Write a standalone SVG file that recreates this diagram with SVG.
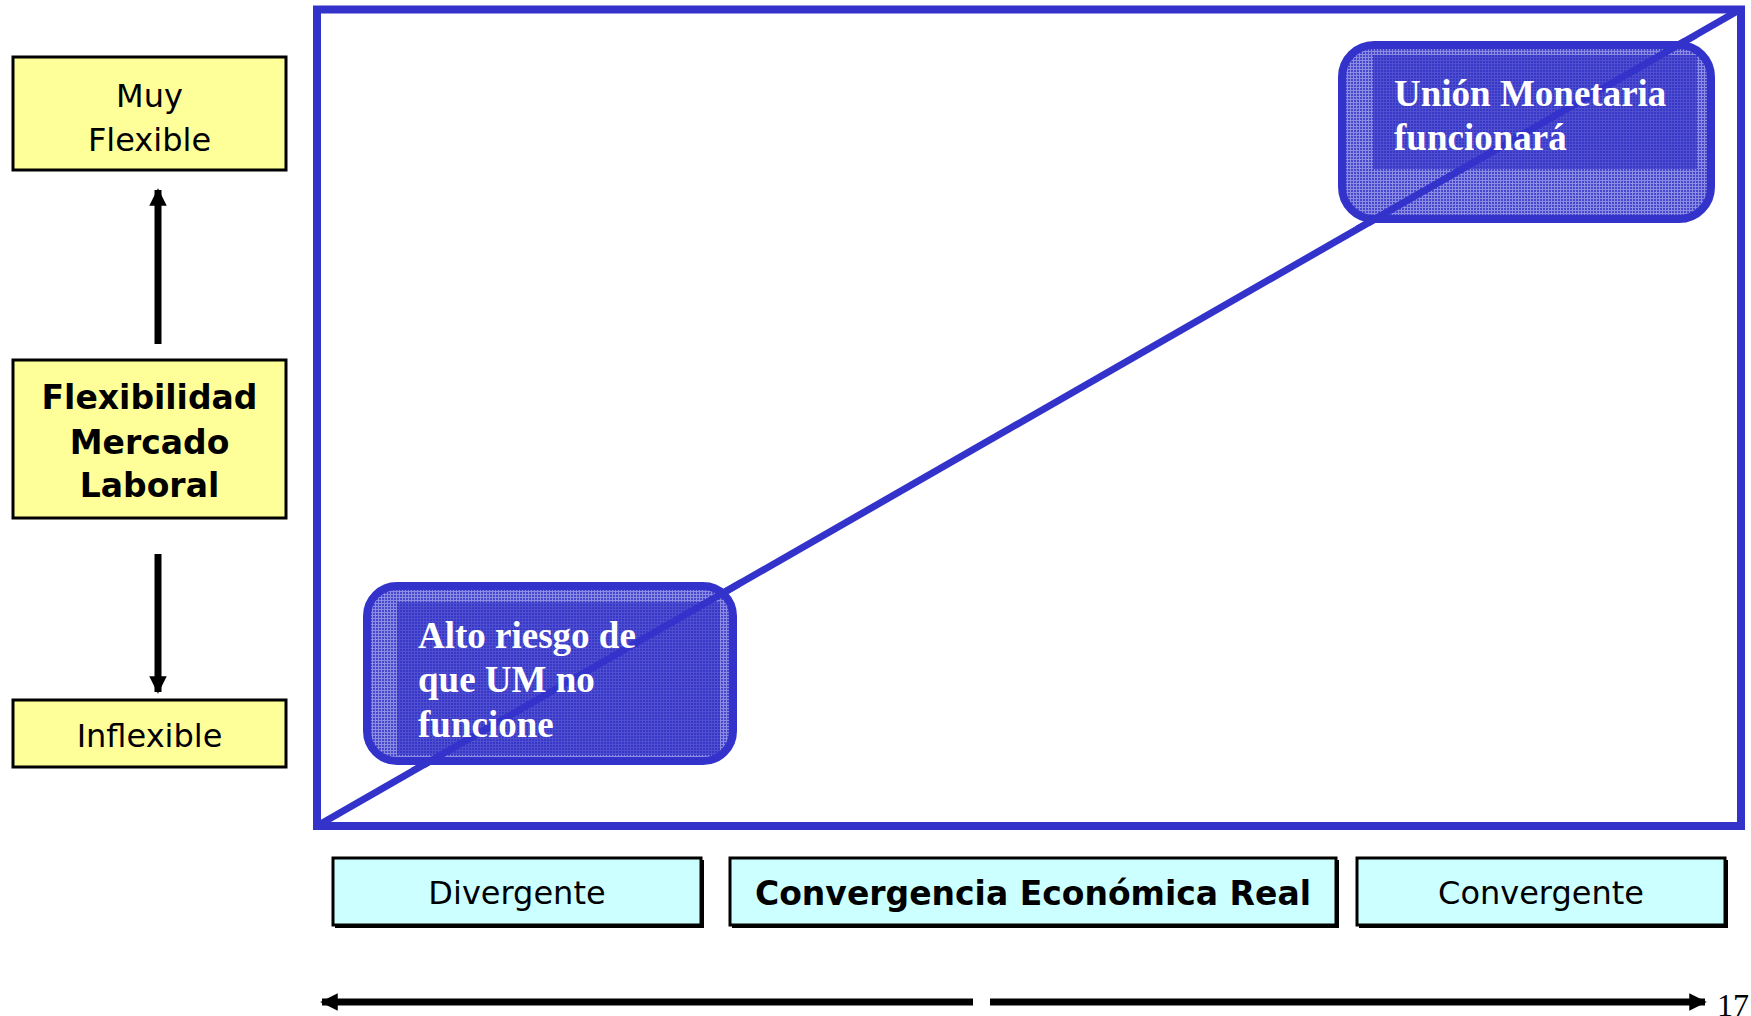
<svg xmlns="http://www.w3.org/2000/svg" xmlns:xlink="http://www.w3.org/1999/xlink" width="1751" height="1016" viewBox="0 0 1751 1016">
  <defs>
    <style>
      .ybox { fill: #FFFF99; stroke: #000; stroke-width: 3; }
      .cbox { fill: #CCFFFF; stroke: #000; stroke-width: 3; }
      .shadow { fill: #000; }
      .sans { font-family: "DejaVu Sans", Verdana, sans-serif; font-size: 32px; fill: #000; text-anchor: middle; }
      .bold { font-weight: bold; font-size: 33px; }
      .ser { font-family: "Liberation Serif", "Times New Roman", serif; font-weight: bold; font-size: 37px; fill: #FFFFFF; }
      .blue { stroke: #3333CC; fill: none; }
      .arrow { stroke: #000; stroke-width: 7; fill: none; }
    </style>
    <pattern id="stipLight" width="3" height="3" patternUnits="userSpaceOnUse">
      <rect width="3" height="3" fill="#4848CE"/>
      <rect width="3" height="1" fill="#8C8CE2"/>
      <rect width="1" height="3" fill="#8C8CE2"/>
    </pattern>
    <pattern id="stipDark" width="3" height="3" patternUnits="userSpaceOnUse">
      <rect width="3" height="3" fill="#3838C8"/>
      <rect width="3" height="1" fill="#4F4FCF"/>
      <rect width="1" height="3" fill="#4F4FCF"/>
    </pattern>
    <marker id="head" viewBox="0 0 10 10" refX="9" refY="5" markerWidth="2.5" markerHeight="2.5" orient="auto-start-reverse" markerUnits="strokeWidth">
      <path d="M0,0 L10,5 L0,10 Z" fill="#000"/>
    </marker>
    <line id="diag" x1="317" y1="826" x2="1741" y2="9" stroke="#3333CC" stroke-width="7"/>
    <clipPath id="clipLow"><rect x="360" y="579" width="380" height="189"/></clipPath>
    <clipPath id="clipHigh"><rect x="1335" y="38" width="383" height="188"/></clipPath>
  </defs>

  <rect width="1751" height="1016" fill="#FFFFFF"/>

  <!-- chart frame -->
  <g id="frame">
    <rect class="blue" x="317" y="9.5" width="1424" height="816.5" stroke-width="8"/>
  </g>

  <!-- connectors -->
  <g id="connectors">
    <use xlink:href="#diag" href="#diag"/>
    <line class="arrow" x1="158" y1="344" x2="158" y2="190" marker-end="url(#head)"/>
    <line class="arrow" x1="158" y1="554" x2="158" y2="692" marker-end="url(#head)"/>
    <line class="arrow" x1="973" y1="1002" x2="322" y2="1002" marker-end="url(#head)"/>
    <line class="arrow" x1="990" y1="1002" x2="1705" y2="1002" marker-end="url(#head)"/>
  </g>

  <!-- left axis nodes -->
  <g id="muy-flexible">
    <rect class="ybox" x="13" y="57" width="273" height="113"/>
    <text class="sans" x="149.5" y="107">Muy</text>
    <text class="sans" x="149.5" y="151">Flexible</text>
  </g>
  <g id="flexibilidad">
    <rect class="ybox" x="13" y="360" width="273" height="158"/>
    <text class="sans bold" x="149.5" y="409">Flexibilidad</text>
    <text class="sans bold" x="149.5" y="454">Mercado</text>
    <text class="sans bold" x="149.5" y="497">Laboral</text>
  </g>
  <g id="inflexible">
    <rect class="ybox" x="13" y="700" width="273" height="67"/>
    <text class="sans" x="149.5" y="747">Inflexible</text>
  </g>

  <!-- bottom axis nodes -->
  <g id="divergente">
    <rect class="shadow" x="335" y="860" width="369" height="68"/>
    <rect class="cbox" x="333" y="858" width="368" height="67"/>
    <text class="sans" x="517" y="904">Divergente</text>
  </g>
  <g id="convergencia">
    <rect class="shadow" x="732" y="860" width="607" height="68"/>
    <rect class="cbox" x="730" y="858" width="606" height="67"/>
    <text class="sans bold" x="1033" y="905">Convergencia Económica Real</text>
  </g>
  <g id="convergente">
    <rect class="shadow" x="1359" y="860" width="369" height="68"/>
    <rect class="cbox" x="1357" y="858" width="368" height="67"/>
    <text class="sans" x="1541" y="904">Convergente</text>
  </g>

  <!-- region boxes -->
  <g id="alto-riesgo">
    <rect x="367" y="586" width="366" height="175" rx="30" fill="url(#stipLight)"/>
    <rect x="397" y="602" width="323" height="153" fill="url(#stipDark)"/>
    <rect class="blue" x="367" y="586" width="366" height="175" rx="30" stroke-width="8"/>
    <use xlink:href="#diag" href="#diag" clip-path="url(#clipLow)"/>
    <text class="ser" x="418" y="648">Alto riesgo de</text>
    <text class="ser" x="418" y="692">que UM no</text>
    <text class="ser" x="418" y="737">funcione</text>
  </g>
  <g id="union-monetaria">
    <rect x="1342" y="45" width="369" height="174" rx="32" fill="url(#stipLight)"/>
    <rect x="1373" y="55" width="324" height="114" fill="url(#stipDark)"/>
    <rect class="blue" x="1342" y="45" width="369" height="174" rx="32" stroke-width="8"/>
    <use xlink:href="#diag" href="#diag" clip-path="url(#clipHigh)"/>
    <text class="ser" x="1394" y="106">Unión Monetaria</text>
    <text class="ser" x="1394" y="150">funcionará</text>
  </g>

  <text x="1717" y="1016" font-family="Liberation Serif, Times New Roman, serif" font-size="32" fill="#000">17</text>
</svg>
